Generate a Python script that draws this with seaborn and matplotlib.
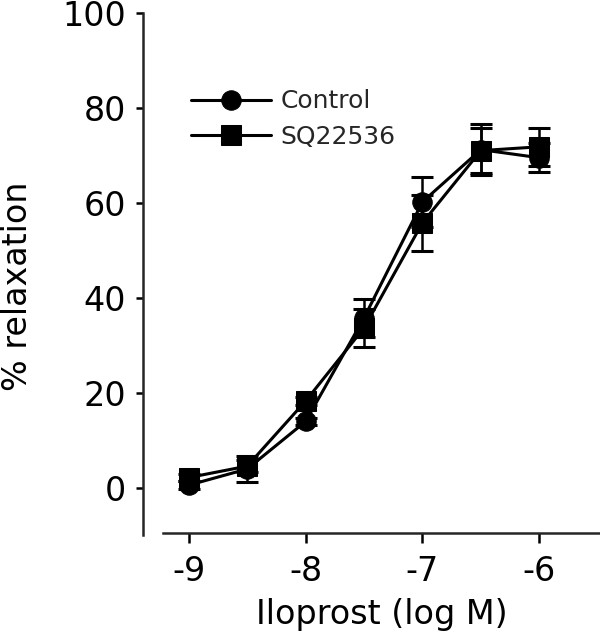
import numpy as np
import pandas as pd
import matplotlib
matplotlib.use("Agg")
import matplotlib.pyplot as plt
import seaborn as sns

# Data
log_conc = [-9.0, -8.5, -8.0, -7.5, -7.0, -6.5, -6.0]
control = [0.6, 4.0, 14.0, 35.8, 60.2, 71.2, 69.5]
control_err = [0.8, 2.7, 0.8, 4.0, 5.3, 5.4, 3.0]
sq22536 = [2.2, 4.6, 18.3, 33.7, 55.8, 71.0, 71.8]
sq_err = [0.8, 1.2, 0.8, 4.0, 5.9, 4.7, 4.0]
series_names = ["Control", "SQ22536"]
x_ticks = [-9, -8, -7, -6]
x_tick_labels = ["-9", "-8", "-7", "-6"]
y_ticks = [0, 20, 40, 60, 80, 100]
y_tick_labels = ["0", "20", "40", "60", "80", "100"]

df = pd.DataFrame({
    "x": log_conc * 2,
    "y": control + sq22536,
    "err": control_err + sq_err,
    "group": [series_names[0]] * len(log_conc) + [series_names[1]] * len(log_conc),
})

sns.set_style("ticks")
plt.rcParams["font.family"] = ["DejaVu Sans"]

fig = plt.figure(figsize=(6, 6.4), dpi=100)
ax = fig.add_axes([0.238, 0.167, 0.762, 0.813])

# error bars (under markers)
for name in series_names:
    sub = df[df["group"] == name]
    ax.errorbar(sub["x"], sub["y"], yerr=sub["err"], fmt="none", ecolor="black",
                elinewidth=1.8, capsize=8, capthick=2.2, zorder=2)

sns.lineplot(data=df, x="x", y="y", style="group", markers={"Control": "o", "SQ22536": "s"},
             dashes=False, color="black", linewidth=2.2, markersize=14,
             markeredgecolor="black", ax=ax, zorder=3, legend=True)

ax.set_xlim(-9.394, -5.48)
ax.set_ylim(-9.5, 100)
ax.set_xticks(x_ticks)
ax.set_xticklabels(x_tick_labels)
ax.set_yticks(y_ticks)
ax.set_yticklabels(y_tick_labels)

for s in ["top", "right"]:
    ax.spines[s].set_visible(False)
ax.spines["left"].set_linewidth(1.8)
ax.spines["bottom"].set_linewidth(1.8)
ax.spines["left"].set_bounds(-10, 100)
ax.spines["bottom"].set_bounds(-9.22, -5.48)

ax.tick_params(axis="y", length=5, width=1.8, labelsize=24, pad=7, color="black", labelcolor="black")
ax.tick_params(axis="x", length=7, width=1.8, labelsize=24, pad=9, color="black", labelcolor="black")

ax.set_xlabel("Iloprost (log M)", fontsize=24, color="black")
ax.set_ylabel("% relaxation", fontsize=24, color="black")
ax.xaxis.set_label_coords(0.523, -0.125)
ax.yaxis.set_label_coords(-0.237, 0.475)

handles, labels = ax.get_legend_handles_labels()
ax.legend(handles=handles, labels=labels, loc="upper left", bbox_to_anchor=(0.083, 0.872),
          frameon=False, fontsize=18, handlelength=3.2, handletextpad=0.4,
          labelspacing=0.45, borderaxespad=0)

fig.savefig("out.png", dpi=100)
